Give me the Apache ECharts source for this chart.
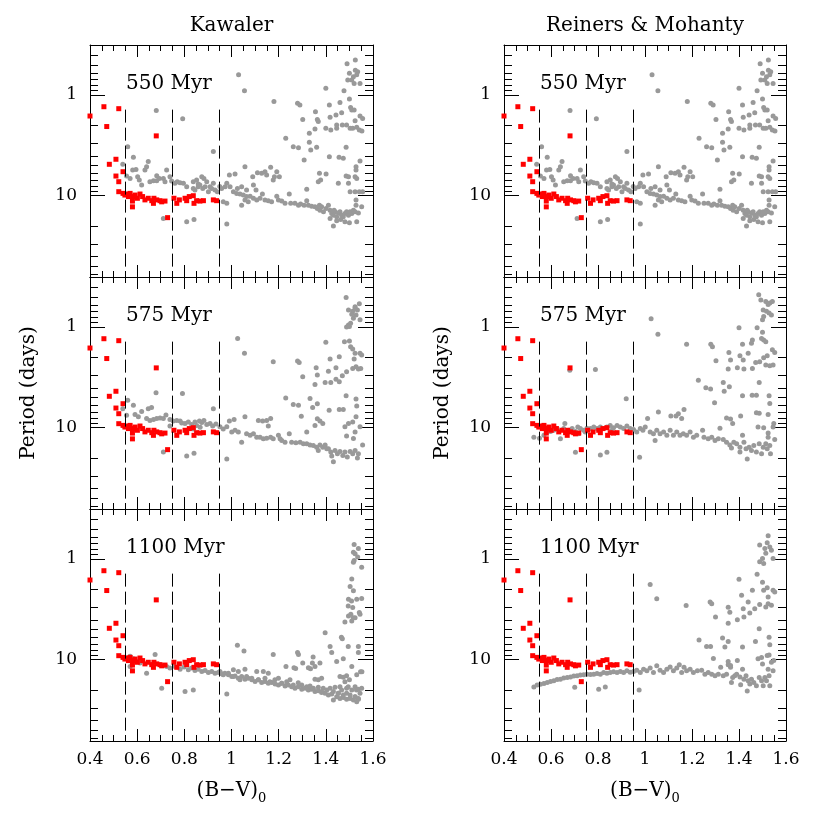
<!DOCTYPE html>
<html>
<head>
<meta charset="utf-8">
<script src="https://cdn.jsdelivr.net/npm/echarts@6.0.0/dist/echarts.min.js"></script>
<style>
  html, body { margin: 0; padding: 0; background: #fff; }
  #chart { width: 830px; height: 830px; }
</style>
</head>
<body>
<div id="chart"></div>
<script>
// column titles and panel ages
const columnTitles = ['Kawaler', 'Reiners & Mohanty'];
const ageLabels = ['550 Myr', '575 Myr', '1100 Myr'];

// axes
const xMin = 0.4, xMax = 1.6, xStep = 0.2;
const yMin = 0.32, yMax = 64;
const yLabelTicks = [1, 10];
const yMinorTicks = [0.4, 0.5, 0.6, 0.7, 0.8, 0.9, 2, 3, 4, 5, 6, 7, 8, 9, 20, 30, 40, 50, 60];
const dashBV = [0.55, 0.75, 0.95];
const dashTopP = 1.4;

// observed stars (red), [B-V, period]
const observed = [
  [0.40, 1.62], [0.459, 1.31], [0.471, 2.06], [0.522, 1.37], [0.681, 2.55],
  [0.482, 4.88], [0.51, 4.35], [0.51, 6.38], [0.54, 5.78], [0.522, 7.26],
  [0.522, 9.12], [0.54, 9.48], [0.548, 9.85], [0.555, 9.62], [0.563, 10.2],
  [0.57, 9.48], [0.581, 10.2], [0.58, 11.3], [0.58, 12.9], [0.591, 9.85],
  [0.601, 10.6], [0.612, 9.62], [0.623, 10.2], [0.633, 11.0], [0.647, 10.6],
  [0.662, 11.2], [0.669, 11.9], [0.671, 10.6], [0.683, 11.0], [0.697, 11.2],
  [0.704, 11.5], [0.718, 11.3], [0.729, 16.5], [0.756, 10.6], [0.768, 11.9],
  [0.779, 11.0], [0.803, 10.6], [0.81, 11.2], [0.821, 10.2], [0.838, 10.0],
  [0.841, 11.9], [0.852, 11.2], [0.866, 11.3], [0.881, 11.2], [0.923, 11.0],
  [0.937, 11.2]
];

// model stars (gray), 550 Myr (same for both models)
const model550 = [
  [1.03, 0.63], [1.055, 0.91], [1.18, 1.16], [1.28, 1.21], [1.29, 1.26], [1.40, 0.86],
  [1.49, 0.49], [1.525, 0.45], [1.50, 0.61], [1.517, 0.66], [1.525, 0.57], [1.535, 0.59],
  [1.51, 0.71], [1.52, 0.77], [1.545, 0.77], [1.493, 0.71], [1.531, 0.63],
  [0.681, 1.43], [0.793, 1.72], [1.23, 2.69], [1.262, 3.26], [1.284, 3.34], [1.302, 1.75],
  [1.356, 1.47], [1.364, 1.75], [1.368, 1.84], [1.354, 2.18], [1.415, 1.26], [1.418, 1.67],
  [1.443, 1.58], [1.46, 1.19], [1.467, 1.50], [1.477, 0.91], [1.50, 1.10], [1.51, 1.41],
  [1.52, 1.41], [1.505, 1.33], [1.545, 1.62], [1.556, 1.71], [1.524, 1.80], [1.446, 1.99],
  [1.446, 2.14], [1.40, 2.14], [1.421, 2.23], [1.47, 1.99], [1.488, 1.99], [1.503, 2.14],
  [1.514, 2.14], [1.531, 2.09], [1.542, 2.23], [1.553, 2.28], [1.33, 2.40], [1.33, 2.95],
  [1.361, 3.31], [1.336, 3.52], [1.486, 3.31], [0.56, 3.26], [0.923, 3.65], [1.415, 4.10],
  [1.456, 4.16], [1.474, 4.26], [1.308, 4.42], [1.528, 5.15], [1.528, 5.56], [1.545, 4.53],
  [0.539, 4.88], [0.584, 4.16], [0.581, 5.56], [0.595, 5.48], [0.64, 5.15], [0.633, 5.56],
  [0.647, 4.59], [0.683, 6.33], [0.683, 7.10], [0.725, 5.56], [0.739, 6.48], [0.619, 7.84],
  [0.609, 6.99], [0.602, 6.48], [0.555, 6.38], [0.57, 6.73], [0.669, 7.10], [0.694, 6.73],
  [0.711, 6.73], [0.718, 7.26], [0.654, 7.26], [0.746, 7.15], [0.76, 7.54], [0.77, 7.26],
  [0.782, 7.43], [0.796, 7.54], [0.81, 8.14], [0.838, 7.26], [0.852, 6.99], [0.874, 6.48],
  [0.883, 6.73], [0.895, 7.26], [0.909, 8.14], [0.923, 7.54], [0.93, 8.79], [0.94, 9.12],
  [0.838, 8.46], [0.845, 8.79], [0.859, 8.14], [0.866, 7.84], [0.888, 8.14], [0.902, 9.12],
  [0.916, 8.46], [0.878, 8.46], [0.859, 7.66], [0.95, 8.10], [0.958, 8.46],
  [0.98, 7.54], [0.991, 6.23], [1.015, 6.09], [1.057, 5.15], [1.09, 6.48], [1.11, 5.91],
  [1.128, 6.0], [1.142, 5.78], [1.149, 6.23], [1.166, 5.23], [1.182, 6.48], [1.192, 5.78],
  [1.177, 6.99], [1.203, 6.48], [1.025, 8.46], [1.043, 8.14], [1.064, 8.79], [1.093, 7.84],
  [1.104, 8.79], [1.131, 9.62], [0.973, 8.14], [0.994, 8.14], [1.008, 9.12], [1.022, 9.48],
  [1.036, 9.62], [1.05, 9.85], [1.064, 10.2], [1.079, 10.1], [1.093, 10.6], [1.107, 11.0],
  [1.121, 10.6], [1.142, 11.0], [1.156, 11.2], [1.17, 11.5], [1.192, 10.1], [1.199, 11.0],
  [1.213, 11.3], [1.227, 11.9], [1.245, 9.62], [1.251, 11.9], [1.269, 11.9], [1.284, 12.4],
  [1.293, 12.1], [1.308, 12.4], [1.319, 11.2], [1.326, 12.4], [1.34, 12.7], [1.354, 12.9],
  [1.364, 13.4], [1.373, 12.4], [1.375, 13.9], [1.382, 12.9], [1.39, 14.4], [1.401, 13.4],
  [1.411, 12.4], [1.418, 13.9], [1.425, 15.0], [1.432, 15.6], [1.439, 14.4], [1.446, 16.2],
  [1.453, 14.8], [1.46, 14.4], [1.467, 15.6], [1.474, 16.2], [1.481, 15.0], [1.488, 14.4],
  [1.496, 15.6], [1.503, 14.4], [1.51, 15.0], [1.517, 13.9], [1.524, 14.4], [1.538, 14.8],
  [1.552, 12.9], [1.432, 20.0], [1.446, 17.7], [1.463, 17.2], [1.481, 18.1], [1.50, 18.5],
  [1.531, 18.1], [1.418, 16.8], [1.435, 13.9], [0.98, 11.9], [0.965, 11.5], [1.043, 12.4],
  [1.057, 11.0], [1.071, 11.5], [0.98, 19.1], [0.81, 18.1], [0.841, 17.2], [0.711, 16.8],
  [1.528, 11.0], [1.528, 12.4], [1.503, 9.12], [1.524, 9.12], [1.542, 9.12], [1.556, 9.12],
  [1.373, 6.0], [1.378, 6.99], [1.401, 6.09], [1.486, 6.38], [1.496, 6.48], [1.524, 6.48],
  [1.531, 6.73], [1.453, 7.54], [1.368, 7.26], [1.319, 8.65], [1.496, 7.54]
];

// Kawaler, 575 Myr
const kawaler575 = [
  [1.026, 1.30], [1.055, 1.83], [1.177, 2.22], [1.28, 2.18], [1.287, 2.25], [1.40, 1.42],
  [1.486, 0.51], [1.524, 0.63], [1.496, 0.68], [1.514, 0.70], [1.524, 0.65], [1.534, 0.68],
  [1.542, 0.59], [1.496, 0.955], [1.505, 0.92], [1.517, 0.82], [1.528, 0.76], [1.51, 0.75],
  [1.545, 0.85], [1.488, 1.0], [1.50, 0.99],
  [1.479, 1.40], [1.50, 1.38], [1.505, 1.57], [1.514, 1.66], [1.524, 1.83], [1.52, 2.08],
  [1.545, 1.83], [1.552, 1.90], [1.538, 2.62], [1.548, 2.58], [1.514, 2.58], [1.528, 2.48],
  [1.418, 2.08], [1.457, 1.98], [1.359, 2.54], [1.364, 3.0], [1.302, 3.13], [1.354, 3.73],
  [1.397, 3.56], [1.411, 2.75], [1.443, 2.54], [1.421, 3.56], [1.443, 3.30], [1.47, 3.05],
  [1.488, 2.78], [1.457, 3.5], [1.23, 5.06], [1.262, 5.9], [1.284, 6.0], [1.333, 5.14],
  [1.364, 5.77], [1.344, 6.3], [1.296, 7.71], [1.414, 6.71], [1.457, 6.6], [1.474, 6.6],
  [1.486, 4.83], [1.528, 5.2], [1.531, 6.1], [1.528, 7.8], [1.364, 8.13], [1.375, 8.6],
  [1.387, 9.1], [1.354, 9.48], [1.319, 11.0], [1.481, 9.8], [1.496, 9.1], [1.514, 8.8],
  [1.488, 12.1], [1.524, 11.0], [1.545, 9.8], [1.517, 12.8], [1.556, 14.8],
  [0.792, 4.58], [0.68, 4.51], [0.923, 6.47],
  [0.56, 5.34], [0.539, 6.5], [0.584, 6.0], [0.555, 7.53], [0.591, 7.4], [0.605, 7.8],
  [0.619, 6.9], [0.647, 6.5], [0.661, 6.3], [0.64, 8.1], [0.654, 8.5], [0.669, 8.3],
  [0.683, 8.1], [0.697, 8.0], [0.711, 8.1], [0.722, 7.5], [0.739, 8.3], [0.753, 8.6],
  [0.768, 8.5], [0.782, 8.6], [0.789, 9.0], [0.803, 9.1], [0.817, 8.8], [0.831, 9.3],
  [0.845, 8.8], [0.852, 9.5], [0.864, 8.6], [0.874, 8.9], [0.883, 8.5], [0.895, 9.3],
  [0.909, 9.1], [0.92, 9.6], [0.934, 9.2], [0.739, 9.6], [0.867, 9.9], [0.838, 10.3],
  [0.951, 9.8], [0.965, 10.3], [0.98, 9.8], [0.991, 8.6], [1.011, 8.3], [1.001, 11.0],
  [1.015, 10.6], [1.029, 11.0], [1.043, 13.9], [1.057, 7.8], [1.064, 11.5], [1.079, 11.9],
  [1.093, 11.5], [1.107, 12.4], [1.114, 8.5], [1.132, 8.6], [1.149, 8.5], [1.166, 8.1],
  [1.156, 9.6], [1.121, 12.4], [1.135, 12.9], [1.149, 12.7], [1.166, 12.4], [1.177, 12.9],
  [1.199, 11.9], [1.213, 13.4], [1.227, 13.9], [1.245, 11.5], [1.255, 13.9], [1.273, 14.1],
  [1.291, 13.9], [1.305, 14.4], [1.319, 14.4], [1.333, 14.8], [1.347, 15.0], [1.361, 15.6],
  [1.368, 16.8], [1.375, 14.8], [1.387, 15.6], [1.397, 14.8], [1.411, 16.2], [1.421, 17.4],
  [1.432, 21.7], [1.439, 16.8], [1.449, 18.1], [1.46, 17.2], [1.472, 18.9], [1.481, 17.4],
  [1.491, 19.5], [1.503, 17.2], [1.514, 18.1], [1.524, 16.8], [1.534, 20.0], [1.538, 18.1],
  [1.425, 19.1], [1.404, 16.2], [0.98, 20.4], [0.81, 19.1], [0.841, 17.9], [0.711, 17.4],
  [1.206, 12.9]
];

// Reiners & Mohanty, 575 Myr
const reiners575 = [
  [1.026, 0.83], [1.055, 1.18], [1.177, 1.49], [1.28, 1.49], [1.287, 1.57], [1.40, 1.02],
  [1.484, 0.48], [1.493, 0.54], [1.514, 0.56], [1.524, 0.60], [1.531, 0.58], [1.542, 0.56],
  [1.503, 0.68], [1.517, 0.70], [1.528, 0.73], [1.505, 0.79], [1.50, 0.85], [1.538, 0.76],
  [1.477, 1.02], [1.50, 1.13], [1.505, 1.35], [1.514, 1.40], [1.496, 1.30], [1.457, 1.35],
  [1.453, 1.45], [1.415, 1.49], [1.439, 1.83], [1.404, 1.93], [1.418, 2.13], [1.357, 1.79],
  [1.364, 2.13], [1.302, 2.17], [1.354, 2.62], [1.393, 2.54], [1.421, 2.62], [1.457, 2.58],
  [1.471, 2.25], [1.488, 2.22], [1.505, 2.02], [1.52, 1.93], [1.514, 2.39], [1.531, 2.43],
  [1.542, 1.69], [1.552, 1.79], [1.545, 2.39], [1.486, 3.56], [1.227, 3.38], [1.259, 4.02],
  [1.279, 4.14], [1.333, 3.56], [1.359, 3.93], [1.337, 4.34], [1.296, 5.66], [1.415, 4.83],
  [1.456, 4.76], [1.474, 4.76], [1.528, 4.83], [1.531, 5.76], [1.347, 8.0], [1.364, 8.2],
  [1.373, 9.1], [1.407, 7.66], [1.474, 7.1], [1.486, 7.2], [1.524, 7.4], [1.319, 10.1],
  [1.481, 9.85], [1.505, 10.0], [1.524, 11.3], [1.524, 12.4], [1.545, 9.85], [1.548, 9.1],
  [0.789, 2.65], [0.92, 5.15], [0.68, 2.69],
  [0.527, 12.4], [0.551, 12.7], [0.57, 11.9], [0.584, 11.0], [0.598, 10.9], [0.612, 10.6],
  [0.64, 12.9], [0.626, 10.2], [0.654, 10.2], [0.659, 9.1], [0.676, 10.6], [0.69, 10.2],
  [0.704, 10.9], [0.714, 9.85], [0.725, 10.2], [0.739, 10.6], [0.753, 10.1], [0.768, 10.2],
  [0.782, 9.85], [0.796, 10.2], [0.81, 9.85], [0.824, 10.2], [0.838, 9.85], [0.852, 9.48],
  [0.866, 10.0], [0.881, 9.48], [0.895, 9.85], [0.909, 10.2], [0.923, 9.62], [0.937, 10.2],
  [0.718, 11.5], [0.746, 11.0], [0.859, 10.6], [0.704, 17.5], [0.81, 18.6], [0.838, 17.5],
  [0.977, 19.6],
  [0.951, 10.4], [0.965, 11.0], [0.98, 10.2], [0.991, 10.6], [1.001, 9.85], [1.011, 8.1],
  [1.022, 11.0], [1.036, 11.5], [1.043, 13.4], [1.05, 10.6], [1.057, 7.0], [1.064, 11.5],
  [1.079, 11.0], [1.093, 11.9], [1.107, 10.6], [1.11, 7.66], [1.132, 7.66], [1.142, 7.26],
  [1.166, 6.6], [1.156, 8.1], [1.121, 11.9], [1.135, 11.0], [1.149, 11.9], [1.163, 11.5],
  [1.177, 11.9], [1.192, 11.0], [1.206, 12.4], [1.22, 11.9], [1.245, 10.6], [1.251, 12.4],
  [1.269, 12.9], [1.284, 12.4], [1.298, 13.4], [1.312, 12.9], [1.333, 13.1], [1.347, 13.9],
  [1.361, 14.8], [1.368, 15.9], [1.378, 13.9], [1.39, 14.4], [1.404, 15.6], [1.415, 11.9],
  [1.421, 13.9], [1.43, 16.2], [1.435, 20.4], [1.443, 15.6], [1.453, 16.8], [1.463, 15.0],
  [1.474, 17.4], [1.486, 14.4], [1.496, 18.1], [1.503, 15.6], [1.514, 14.4], [1.52, 16.2],
  [1.531, 15.0], [1.534, 18.1], [1.552, 13.1], [1.404, 17.4]
];

// Kawaler, 1100 Myr
const kawaler1100 = [
  [1.52, 0.72], [1.517, 0.86], [1.524, 0.89], [1.538, 0.79], [1.535, 0.96], [1.52, 1.04],
  [1.517, 1.08], [1.552, 1.21], [1.51, 1.58], [1.503, 1.88], [1.517, 2.07], [1.531, 2.51],
  [1.496, 2.51], [1.514, 3.04], [1.542, 3.41], [1.496, 3.69], [1.481, 4.23], [1.51, 4.14],
  [1.552, 2.47], [1.545, 3.55], [1.524, 3.83], [1.516, 3.83], [1.506, 3.55], [1.495, 2.93],
  [1.509, 2.61],
  [1.025, 7.2], [1.053, 8.2], [1.177, 8.9], [1.231, 11.7], [1.265, 12.0], [1.272, 12.2],
  [1.28, 8.5], [1.284, 8.9], [1.302, 10.8], [1.326, 12.0], [1.335, 12.3], [1.343, 10.8],
  [1.346, 9.4], [1.354, 11.7], [1.375, 10.8], [1.397, 5.4], [1.418, 7.4], [1.425, 8.5],
  [1.446, 10.4], [1.466, 6.0], [1.47, 6.2], [1.474, 9.8], [1.495, 7.4], [1.51, 11.7],
  [1.538, 7.4], [1.538, 8.5], [1.547, 13.2], [1.553, 13.2], [1.488, 14.4], [1.50, 15.8],
  [1.53, 20.0], [1.46, 14.7], [1.474, 14.9], [1.481, 16.5], [1.524, 18.5], [1.531, 14.1],
  [0.553, 9.6], [0.57, 9.25], [0.584, 9.8], [0.598, 10.4], [0.612, 10.8], [0.64, 13.6],
  [0.662, 11.2], [0.676, 8.9], [0.697, 11.2], [0.725, 11.7], [0.739, 12.1], [0.76, 11.7],
  [0.782, 12.4], [0.799, 11.8], [0.817, 12.6], [0.831, 12.1], [0.845, 12.8], [0.859, 12.4],
  [0.874, 13.1], [0.888, 12.8], [0.902, 13.4], [0.916, 13.1], [0.93, 13.6], [0.944, 13.4],
  [0.958, 13.8], [0.972, 13.6], [0.987, 14.1], [1.001, 14.7], [1.015, 14.5], [1.029, 15.3],
  [1.043, 14.7], [1.057, 15.6], [1.071, 15.3], [1.086, 15.8], [1.10, 16.4], [1.114, 15.8],
  [1.128, 16.8], [1.142, 16.4], [1.156, 17.1], [1.171, 16.8], [1.185, 17.4], [1.199, 17.8],
  [1.213, 17.1], [1.227, 18.2], [1.241, 17.8], [1.255, 18.5], [1.269, 19.2], [1.283, 18.5],
  [1.298, 19.6], [1.312, 19.2], [1.326, 20.0], [1.34, 19.6], [1.354, 20.7], [1.368, 20.3],
  [1.382, 21.2], [1.397, 21.5], [1.411, 22.4], [1.425, 21.9], [1.432, 25.1], [1.446, 23.3],
  [1.46, 24.2], [1.474, 23.7], [1.488, 24.7], [1.503, 24.2], [1.517, 25.1], [1.531, 26.1],
  [1.524, 23.3], [1.538, 24.7], [1.453, 21.5], [0.704, 19.2], [0.803, 20.7], [0.838, 20.0],
  [0.98, 21.9], [0.57, 11.7], [1.46, 18.5], [1.488, 19.2], [1.538, 19.6],
  [0.951, 13.1], [0.965, 14.1], [0.987, 13.6], [1.008, 12.6], [1.008, 14.7], [1.029, 13.1],
  [1.036, 15.8], [1.057, 12.4], [1.064, 14.7], [1.086, 15.3], [1.107, 13.1], [1.114, 15.8],
  [1.135, 13.1], [1.142, 15.3], [1.156, 13.6], [1.163, 16.5], [1.184, 15.8], [1.199, 15.3],
  [1.213, 17.1], [1.234, 16.5], [1.248, 15.8], [1.262, 17.8], [1.283, 16.9], [1.298, 17.8],
  [1.319, 18.5], [1.333, 18.2], [1.347, 19.2], [1.354, 15.6], [1.368, 18.8], [1.382, 15.3],
  [1.389, 19.2], [1.404, 20.0], [1.418, 19.2], [1.432, 20.7], [1.439, 18.8], [1.453, 21.5],
  [1.467, 20.0], [1.474, 22.4], [1.488, 21.5], [1.503, 22.4], [1.51, 20.0], [1.524, 23.3],
  [1.538, 24.2], [1.552, 19.2], [1.545, 21.5], [1.495, 18.5], [1.368, 15.8], [1.382, 20.7]
];

// Reiners & Mohanty, 1100 Myr
const reiners1100 = [
  [0.527, 18.6], [0.541, 17.8], [0.555, 17.5], [0.57, 17.2], [0.584, 16.8], [0.598, 16.4],
  [0.612, 16.2], [0.626, 15.7], [0.64, 15.6], [0.654, 15.2], [0.669, 15.0], [0.683, 14.8],
  [0.697, 14.5], [0.711, 14.4], [0.725, 14.2], [0.739, 14.1], [0.753, 13.9], [0.768, 14.0],
  [0.782, 13.9], [0.796, 13.7], [0.81, 13.9], [0.824, 13.4], [0.838, 13.6], [0.852, 13.4],
  [0.866, 13.2], [0.881, 13.4], [0.895, 13.1], [0.909, 13.4], [0.923, 12.9], [0.937, 13.3],
  [0.951, 13.1], [0.965, 12.7], [0.98, 13.4], [0.994, 12.4], [1.008, 12.9], [1.022, 12.1],
  [1.036, 13.4], [1.05, 11.5], [1.064, 12.7], [1.079, 13.4], [1.093, 12.4], [1.107, 11.8],
  [1.121, 12.9], [1.135, 12.1], [1.146, 11.2], [1.156, 13.4], [1.166, 11.9], [1.177, 12.9],
  [1.192, 12.4], [1.206, 13.4], [1.223, 12.9], [1.241, 12.7], [1.255, 13.9], [1.269, 13.4],
  [1.284, 13.9], [1.298, 14.4], [1.312, 13.9], [1.322, 11.9], [1.333, 14.4], [1.347, 13.9],
  [1.354, 11.2], [1.364, 11.9], [1.373, 15.0], [1.382, 14.4], [1.368, 16.8], [1.39, 13.9],
  [1.404, 14.8], [1.415, 12.4], [1.421, 15.6], [1.43, 14.4], [1.435, 20.4], [1.439, 16.2],
  [1.446, 17.4], [1.453, 15.6], [1.463, 16.8], [1.474, 18.1], [1.486, 15.0], [1.496, 16.2],
  [1.503, 18.1], [1.51, 15.0], [1.517, 16.2], [1.528, 14.4], [1.531, 18.1], [1.545, 12.9],
  [1.407, 17.7], [0.701, 18.8], [0.803, 19.6], [0.831, 18.6], [0.975, 20.0],
  [1.022, 1.79], [1.05, 2.48], [1.175, 2.9], [1.277, 2.68], [1.284, 2.79], [1.40, 1.59],
  [1.30, 3.78], [1.354, 3.01], [1.361, 3.38], [1.354, 4.34], [1.393, 4.02], [1.411, 2.30],
  [1.418, 3.13], [1.439, 2.68], [1.446, 3.45], [1.421, 3.78], [1.467, 3.13], [1.488, 2.83],
  [1.457, 2.05], [1.477, 1.42], [1.50, 1.70], [1.505, 2.05], [1.52, 1.93], [1.514, 3.0],
  [1.524, 2.79], [1.538, 2.89], [1.545, 2.05], [1.552, 2.13], [1.524, 2.39],
  [1.524, 0.59], [1.488, 0.73], [1.51, 0.79], [1.531, 0.76], [1.514, 0.88], [1.50, 0.99],
  [1.488, 1.07], [1.505, 1.11], [1.545, 0.99], [1.538, 0.82], [1.52, 0.69],
  [1.23, 6.37], [1.262, 7.4], [1.279, 7.4], [1.291, 9.7], [1.33, 6.1], [1.354, 6.6],
  [1.34, 7.5], [1.415, 7.5], [1.47, 6.6], [1.486, 4.94], [1.528, 6.0], [1.531, 7.1],
  [1.354, 10.4], [1.364, 11.4], [1.393, 10.2], [1.481, 9.8], [1.496, 9.5], [1.52, 9.1],
  [1.528, 9.0], [1.50, 11.0], [1.524, 12.4], [1.538, 10.6], [1.548, 10.2]
];

const panels = [
  { col: 0, row: 0, model: model550 },
  { col: 1, row: 0, model: model550 },
  { col: 0, row: 1, model: kawaler575 },
  { col: 1, row: 1, model: reiners575 },
  { col: 0, row: 2, model: kawaler1100 },
  { col: 1, row: 2, model: reiners1100 }
];

const colLeft = [90, 504];
const colWidth = [283, 282];
const rowTop = [45, 277, 509];
const rowHeight = 232;

const FONT = 'DejaVu Serif';
const black = '#000';

const isLabelTick = v => yLabelTicks.some(t => Math.abs(v - t) / t < 1e-6);

const grid = [], xAxis = [], yAxis = [], series = [], graphic = [];

panels.forEach((p, i) => {
  const bottomRow = p.row === 2;
  grid.push({
    left: colLeft[p.col], top: rowTop[p.row], width: colWidth[p.col], height: rowHeight,
    containLabel: false, outerBoundsMode: 'none'
  });

  const xBase = {
    gridIndex: i, type: 'value', min: xMin, max: xMax, interval: xStep,
    axisLine: { show: true, onZero: false, lineStyle: { color: black, width: 1 } },
    axisTick: { show: true, inside: true, length: 12, lineStyle: { color: black } },
    minorTick: { show: true, splitNumber: 4, length: 6, lineStyle: { color: black } },
    splitLine: { show: false }, minorSplitLine: { show: false },
    nameMoveOverlap: false
  };
  xAxis.push(Object.assign({}, xBase, {
    position: 'bottom',
    axisLabel: {
      show: bottomRow, margin: 10, color: black, fontFamily: FONT, fontSize: 17,
      showMinLabel: true, showMaxLabel: true
    },
    name: bottomRow ? '(B\u2212V){s|0}' : '',
    nameLocation: 'middle', nameGap: 36,
    nameTextStyle: {
      color: black, fontFamily: FONT, fontSize: 20, lineHeight: 28,
      rich: { s: { fontFamily: FONT, fontSize: 13, lineHeight: 17, verticalAlign: 'bottom', color: black } }
    }
  }));
  xAxis.push(Object.assign({}, xBase, {
    position: 'top',
    axisLabel: { show: false },
    name: p.row === 0 ? columnTitles[p.col] : '',
    nameLocation: 'middle', nameGap: 9,
    nameTextStyle: { color: black, fontFamily: FONT, fontSize: 20 }
  }));

  const yBase = {
    gridIndex: i, type: 'log', logBase: 10, min: yMin, max: yMax, inverse: true,
    axisLine: { show: true, onZero: false, lineStyle: { color: black, width: 1 } },
    axisTick: { show: true, inside: true, length: 15, lineStyle: { color: black } },
    splitLine: { show: false },
    nameMoveOverlap: false
  };
  yAxis.push(Object.assign({}, yBase, {
    position: 'left',
    axisLabel: {
      show: true, margin: 13, color: black, fontFamily: FONT, fontSize: 17,
      formatter: v => (isLabelTick(v) ? String(Math.round(v)) : '')
    },
    name: p.row === 1 ? 'Period (days)' : '',
    nameLocation: 'middle', nameGap: 51,
    nameTextStyle: { color: black, fontFamily: FONT, fontSize: 20 }
  }));
  yAxis.push(Object.assign({}, yBase, {
    position: 'right',
    axisLabel: { show: false }
  }));

  // log minor ticks on both vertical edges
  series.push({
    type: 'custom', xAxisIndex: 2 * i, yAxisIndex: 2 * i, silent: true, clip: false,
    data: yMinorTicks.map(v => [xMin, v]),
    renderItem: (params, api) => {
      const y = Math.round(api.coord([xMin, api.value(1)])[1]) + 0.5;
      const cs = params.coordSys;
      return {
        type: 'group',
        children: [
          { type: 'line', shape: { x1: cs.x, y1: y, x2: cs.x + 8, y2: y }, style: { stroke: black, lineWidth: 1 } },
          { type: 'line', shape: { x1: cs.x + cs.width - 8, y1: y, x2: cs.x + cs.width, y2: y }, style: { stroke: black, lineWidth: 1 } }
        ]
      };
    }
  });

  series.push({
    type: 'scatter', xAxisIndex: 2 * i, yAxisIndex: 2 * i,
    data: p.model, symbol: 'circle', symbolSize: 5,
    itemStyle: { color: '#999999', opacity: 1 },
    markLine: {
      silent: true, symbol: 'none', animation: false,
      label: { show: false },
      lineStyle: { color: black, width: 1, type: [13, 5] },
      data: dashBV.map(b => [{ coord: [b, dashTopP] }, { coord: [b, yMax] }])
    }
  });

  series.push({
    type: 'scatter', xAxisIndex: 2 * i, yAxisIndex: 2 * i,
    data: observed, symbol: 'rect', symbolSize: 5,
    itemStyle: { color: '#ff0000', opacity: 1 }, z: 3
  });

  graphic.push({
    type: 'text', left: colLeft[p.col] + 36, top: rowTop[p.row] + 29,
    style: { text: ageLabels[p.row], fill: black, font: '20px "DejaVu Serif"' }
  });
});

const chart = echarts.init(document.getElementById('chart'), null, { renderer: 'canvas' });
chart.setOption({
  animation: false,
  backgroundColor: '#fff',
  grid, xAxis, yAxis, series, graphic
});
</script>
</body>
</html>
